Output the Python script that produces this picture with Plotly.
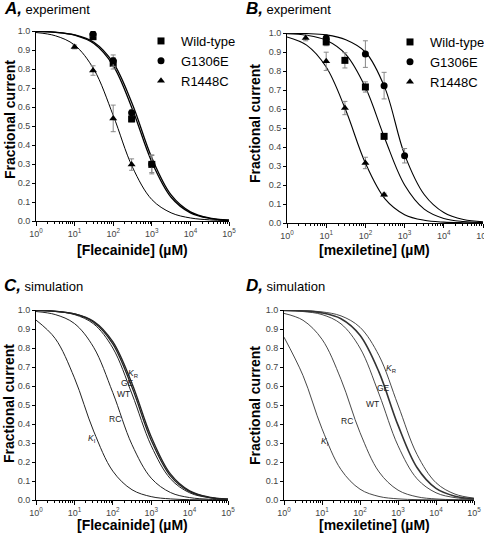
import plotly.graph_objects as go

# ---------------- data ----------------
conc_fit = [1, 3.162, 10, 31.62, 100, 316.2, 1000, 3162, 10000, 31620, 100000]

# Panel A (flecainide, experiment)
A_wt_conc = [30, 100, 300, 1000]
A_wt_val = [0.970, 0.830, 0.537, 0.298]
A_wt_err = [0.012, 0.030, 0.015, 0.050]
A_ge_conc = [30, 100, 300, 1000]
A_ge_val = [0.984, 0.844, 0.570, 0.300]
A_ge_err = [0.012, 0.030, 0.015, 0.045]
A_rc_conc = [10, 30, 100, 300]
A_rc_val = [0.916, 0.792, 0.540, 0.297]
A_rc_err = [0.010, 0.025, 0.070, 0.030]
A_wt_fit = [0.998, 0.993, 0.978, 0.934, 0.818, 0.587, 0.311, 0.125, 0.043, 0.014, 0.0045]
A_ge_fit = [0.998, 0.994, 0.980, 0.941, 0.833, 0.613, 0.333, 0.137, 0.048, 0.0156, 0.005]
A_rc_fit = [0.992, 0.975, 0.926, 0.798, 0.556, 0.283, 0.113, 0.043, 0.016, 0.006, 0.002]

# Panel B (mexiletine, experiment)
B_wt_conc = [10, 30, 100, 300]
B_wt_val = [0.953, 0.856, 0.716, 0.456]
B_wt_err = [0.020, 0.040, 0.027, 0.012]
B_ge_conc = [10, 100, 300, 1000]
B_ge_val = [0.974, 0.889, 0.723, 0.354]
B_ge_err = [0.010, 0.070, 0.070, 0.038]
B_rc_conc = [3, 10, 30, 100, 300]
B_rc_val = [0.974, 0.851, 0.605, 0.316, 0.149]
B_rc_err = [0.015, 0.048, 0.035, 0.030, 0.008]
B_wt_fit = [0.996, 0.988, 0.962, 0.888, 0.714, 0.442, 0.200, 0.073, 0.024, 0.0078, 0.0025]
B_ge_fit = [0.999, 0.997, 0.990, 0.965, 0.900, 0.710, 0.360, 0.150, 0.055, 0.018, 0.006]
B_rc_fit = [0.979, 0.936, 0.821, 0.593, 0.315, 0.127, 0.044, 0.0143, 0.0046, 0.0015, 0.0005]

# Panel C (flecainide, simulation)
C_kr = [0.998, 0.994, 0.980, 0.941, 0.833, 0.613, 0.333, 0.137, 0.048, 0.0156, 0.005]
C_ge = [0.998, 0.993, 0.979, 0.936, 0.822, 0.593, 0.315, 0.127, 0.044, 0.0143, 0.0046]
C_wt = [0.9975, 0.992, 0.976, 0.927, 0.800, 0.558, 0.286, 0.112, 0.038, 0.0125, 0.004]
C_rc = [0.992, 0.976, 0.929, 0.804, 0.565, 0.291, 0.115, 0.0395, 0.0128, 0.0041, 0.0013]
C_ki = [0.947, 0.850, 0.643, 0.363, 0.152, 0.054, 0.0177, 0.0057, 0.0018, 0.0006, 0.0002]

# Panel D (mexiletine, simulation)
D_kr = [0.999, 0.997, 0.990, 0.969, 0.909, 0.760, 0.500, 0.240, 0.091, 0.031, 0.0099]
D_ge = [0.998, 0.995, 0.985, 0.954, 0.867, 0.673, 0.394, 0.171, 0.061, 0.020, 0.0065]
D_wt = [0.9975, 0.992, 0.976, 0.927, 0.800, 0.558, 0.286, 0.112, 0.038, 0.0125, 0.004]
D_rc = [0.982, 0.946, 0.846, 0.635, 0.355, 0.148, 0.052, 0.017, 0.0055, 0.0017, 0.00055]
D_ki = [0.857, 0.655, 0.375, 0.160, 0.057, 0.0186, 0.006, 0.0019, 0.0006, 0.0002, 0.0001]

series_names = ["Wild-type", "G1306E", "R1448C"]
x_tick_vals = [1, 10, 100, 1000, 10000, 100000]
x_tick_text = ["10<sup>0</sup>", "10<sup>1</sup>", "10<sup>2</sup>", "10<sup>3</sup>", "10<sup>4</sup>", "10<sup>5</sup>"]

# Curve labels for C and D: (text, log10 x, y)
C_labels = [("<i>K</i><sub>R</sub>", 2.53, 0.668), ("GE", 2.38, 0.614), ("WT", 2.27, 0.56),
            ("RC", 2.06, 0.426), ("<i>K</i><sub>I</sub>", 1.47, 0.325)]
D_labels = [("<i>K</i><sub>R</sub>", 2.83, 0.693), ("GE", 2.61, 0.588), ("WT", 2.32, 0.505),
            ("RC", 1.67, 0.416), ("<i>K</i><sub>I</sub>", 1.07, 0.307)]

FONT = "Liberation Sans, Arial, sans-serif"
W, H = 484, 539

fig = go.Figure()

def curve(x, y, ax, width=1.0, color="black"):
    fig.add_trace(go.Scatter(x=x, y=y, mode="lines", line=dict(color=color, width=width, shape="spline", smoothing=1.0),
                             xaxis="x" + ax, yaxis="y" + ax, showlegend=False, hoverinfo="skip"))

def points(x, y, err, ax, name, symbol, legend):
    fig.add_trace(go.Scatter(x=x, y=y, mode="markers", name=name,
                             marker=dict(symbol=symbol, size=7, color="black"),
                             error_y=dict(type="data", array=err, color="#888888", thickness=1, width=2.5),
                             xaxis="x" + ax, yaxis="y" + ax, legend=legend))

# A
curve(conc_fit, A_wt_fit, "", 1.3)
curve(conc_fit, A_ge_fit, "", 1.3)
curve(conc_fit, A_rc_fit, "", 1.0)
points(A_wt_conc, A_wt_val, A_wt_err, "", series_names[0], "square", "legend")
points(A_ge_conc, A_ge_val, A_ge_err, "", series_names[1], "circle", "legend")
points(A_rc_conc, A_rc_val, A_rc_err, "", series_names[2], "triangle-up", "legend")
# B
curve(conc_fit, B_wt_fit, "2", 1.1)
curve(conc_fit, B_ge_fit, "2", 1.1)
curve(conc_fit, B_rc_fit, "2", 1.1)
points(B_wt_conc, B_wt_val, B_wt_err, "2", series_names[0], "square", "legend2")
points(B_ge_conc, B_ge_val, B_ge_err, "2", series_names[1], "circle", "legend2")
points(B_rc_conc, B_rc_val, B_rc_err, "2", series_names[2], "triangle-up", "legend2")
# C
for ys, w in [(C_kr, 1.3), (C_ge, 1.3), (C_wt, 1.0), (C_rc, 1.0), (C_ki, 1.0)]:
    curve(conc_fit, ys, "3", w, "#222222")
# D
for ys, w in [(D_kr, 0.9), (D_ge, 1.6), (D_wt, 0.9), (D_rc, 0.9), (D_ki, 0.9)]:
    curve(conc_fit, ys, "4", w, "#333333")

def px_x(p):
    return p / W

def px_y(p):
    return 1 - p / H

def xaxis(domain, anchor):
    return dict(domain=domain, anchor=anchor, type="log", range=[0, 5],
                tickmode="array", tickvals=x_tick_vals, ticktext=x_tick_text,
                ticks="outside", ticklen=4, tickwidth=1, tickcolor="black",
                showline=True, linecolor="black", linewidth=1, showgrid=False, zeroline=False,
                ticklabeloverflow="allow",
                tickfont=dict(family=FONT, size=9, color="#444444"),
                minor=dict(ticks="outside", ticklen=2, tickwidth=1, tickcolor="black", dtick="D1", showgrid=False))

def yaxis(domain, anchor):
    return dict(domain=domain, anchor=anchor, range=[0, 1.0], tickmode="linear", tick0=0, dtick=0.1,
                tickformat=".1f", ticks="outside", ticklen=3, tickwidth=1, tickcolor="black",
                showline=True, linecolor="black", linewidth=1, showgrid=False, zeroline=False,
                tickfont=dict(family=FONT, size=9, color="#444444"))

annotations = []

def text(x, y, t, size=14, bold=False, angle=0, xanchor="center", color="black"):
    annotations.append(dict(x=px_x(x), y=px_y(y), xref="paper", yref="paper", text=("<b>%s</b>" % t) if bold else t,
                            showarrow=False, textangle=angle, xanchor=xanchor, yanchor="middle",
                            font=dict(family=FONT, size=size, color=color)))

# panel titles
text(2, 9, "<span style='font-size:17px'><b><i>A,</i></b></span> experiment", 13, xanchor="left")
text(244, 9, "<span style='font-size:17px'><b><i>B,</i></b></span> experiment", 13, xanchor="left")
text(2, 285, "<span style='font-size:17px'><b><i>C,</i></b></span> simulation", 13, xanchor="left")
text(244, 285, "<span style='font-size:17px'><b><i>D,</i></b></span> simulation", 13, xanchor="left")
# axis titles
text(10, 120, "Fractional current", 14, True, -90)
text(255, 123, "Fractional current", 14, True, -90)
text(9, 404, "Fractional current", 14, True, -90)
text(255, 405, "Fractional current", 14, True, -90)
text(132, 250, "[Flecainide] (µM)", 14, True)
text(374, 250, "[mexiletine] (µM)", 14, True)
text(132, 525, "[Flecainide] (µM)", 14, True)
text(374, 525, "[mexiletine] (µM)", 14, True)

for t, lx, ly in C_labels:
    annotations.append(dict(x=lx, y=ly, xref="x3", yref="y3", text=t, showarrow=False,
                            font=dict(family=FONT, size=8.5, color="#222222")))
for t, lx, ly in D_labels:
    annotations.append(dict(x=lx, y=ly, xref="x4", yref="y4", text=t, showarrow=False,
                            font=dict(family=FONT, size=8.5, color="#222222")))

legend_style = dict(font=dict(family=FONT, size=13, color="black"), bgcolor="rgba(0,0,0,0)",
                    borderwidth=0, xanchor="left", yanchor="top", tracegroupgap=0)

fig.update_layout(
    width=W, height=H, margin=dict(l=0, r=0, t=0, b=0, autoexpand=False),
    paper_bgcolor="white", plot_bgcolor="white",
    font=dict(family=FONT, color="black"),
    xaxis=xaxis([px_x(36), px_x(229)], "y"),
    yaxis=yaxis([px_y(221), px_y(31)], "x"),
    xaxis2=xaxis([px_x(287), px_x(483)], "y2"),
    yaxis2=yaxis([px_y(223), px_y(33)], "x2"),
    xaxis3=xaxis([px_x(36), px_x(228)], "y3"),
    yaxis3=yaxis([px_y(500), px_y(310)], "x3"),
    xaxis4=xaxis([px_x(284), px_x(474)], "y4"),
    yaxis4=yaxis([px_y(500), px_y(310)], "x4"),
    legend=dict(x=px_x(141), y=px_y(26), **legend_style),
    legend2=dict(x=px_x(390), y=px_y(27), **legend_style),
    annotations=annotations,
    showlegend=True,
)

fig.write_html("out.html", config={"displayModeBar": False},
               post_script="document.body.style.margin='0';document.body.style.overflow='hidden';")
